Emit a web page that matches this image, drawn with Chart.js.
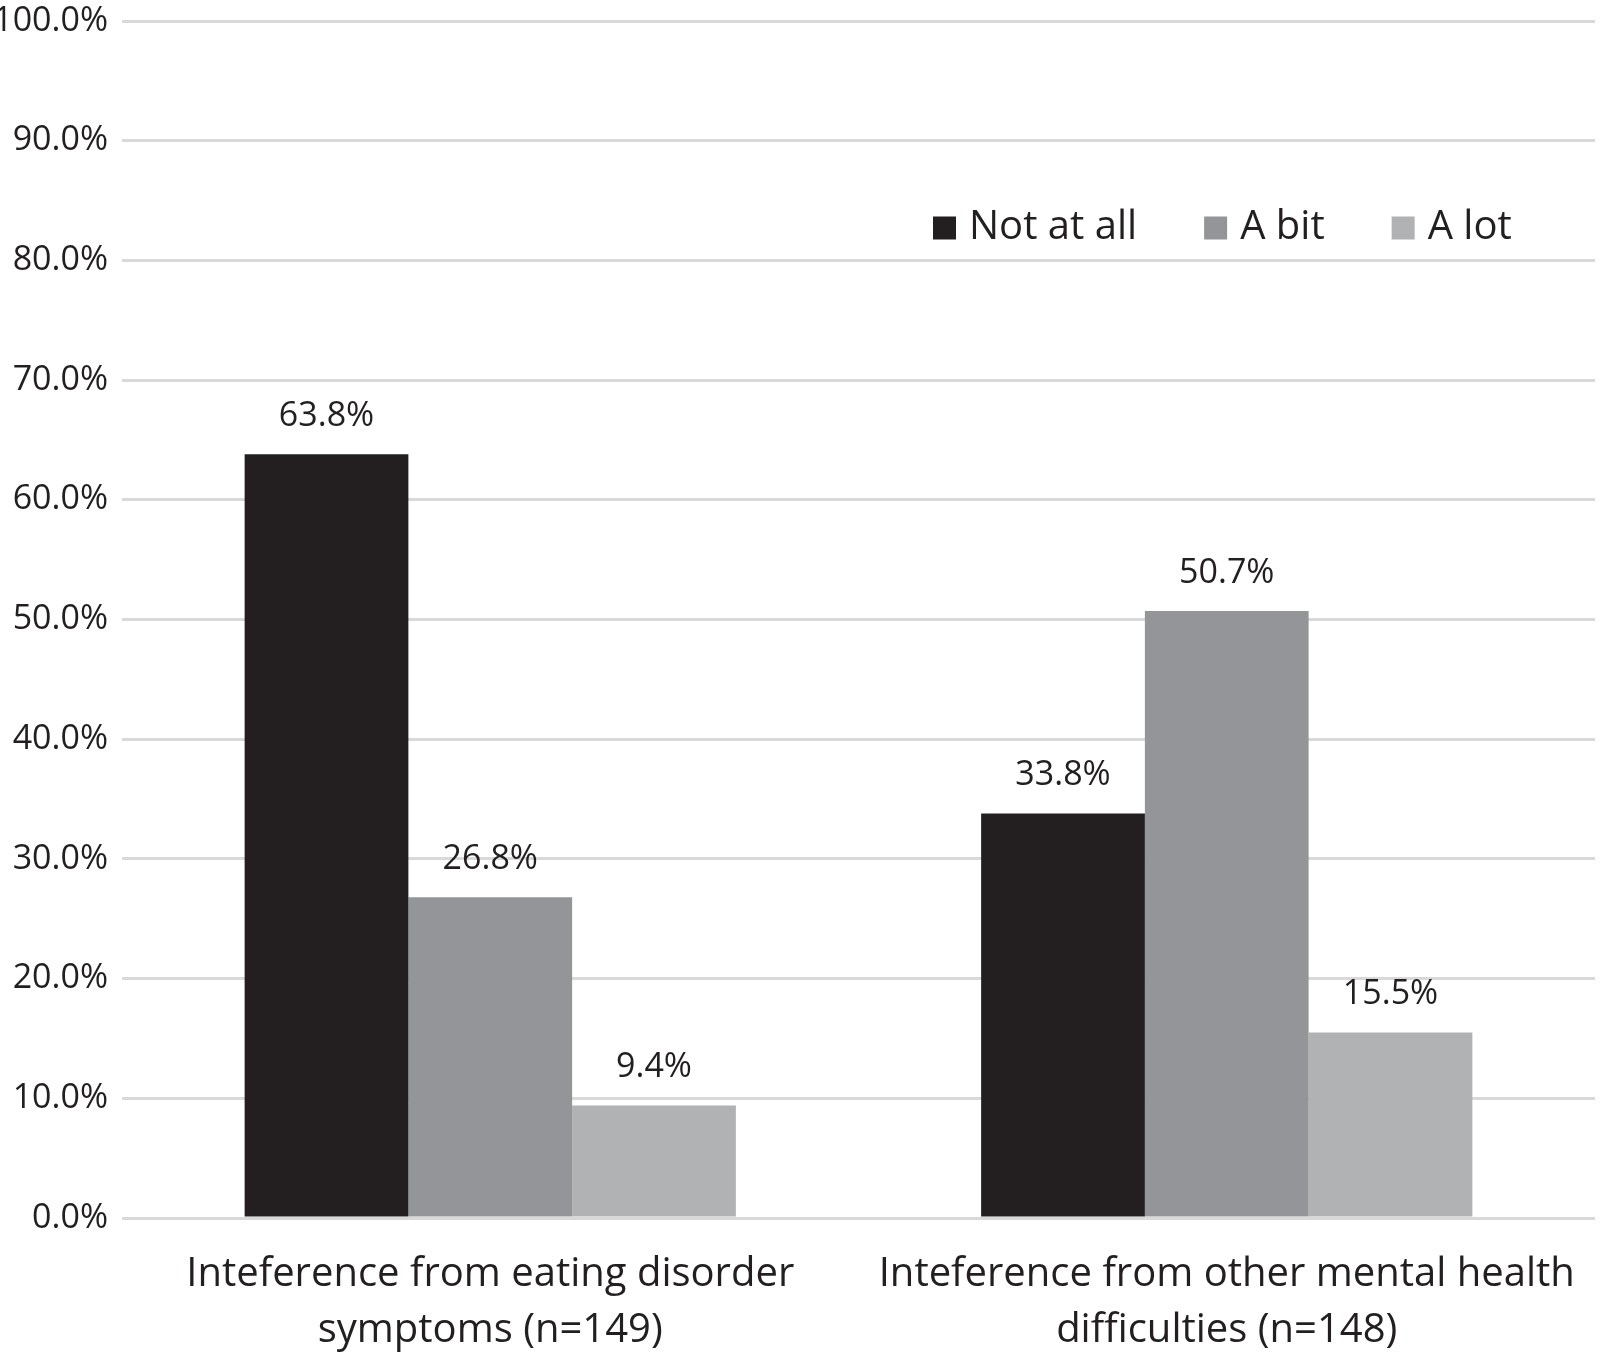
<!DOCTYPE html>
<html>
<head>
<meta charset="utf-8">
<script src="https://cdn.jsdelivr.net/npm/chart.js@4.4.1/dist/chart.umd.min.js"></script>
<style>
  html, body { margin: 0; padding: 0; background: #fff; }
  #wrap { width: 1600px; height: 1356px; }
</style>
</head>
<body>
<div id="wrap"><canvas id="myChart" width="1600" height="1356"></canvas></div>
<script>
// categories (two-line x labels)
const categories = [
  ['Inteference from eating disorder', 'symptoms (n=149)'],
  ['Inteference from other mental health', 'difficulties (n=148)']
];
const seriesNames = ['Not at all', 'A bit', 'A lot'];
const notAtAll = [63.8, 33.8];
const aBit = [26.8, 50.7];
const aLot = [9.4, 15.5];
const colors = ['#231f20', '#939598', '#b1b2b4'];

const FONT = "'Open Sans', 'Noto Sans', sans-serif";
const TEXT = '#231f20';

// value labels above each bar, using the bar element positions
const valueLabels = {
  id: 'valueLabels',
  afterDatasetsDraw(chart) {
    const ctx = chart.ctx;
    ctx.save();
    ctx.font = '34px ' + FONT;
    ctx.fillStyle = TEXT;
    ctx.textAlign = 'center';
    ctx.textBaseline = 'middle';
    chart.data.datasets.forEach((ds, i) => {
      chart.getDatasetMeta(i).data.forEach((bar, j) => {
        ctx.fillText(ds.data[j].toFixed(1) + '%', bar.x, bar.y - 38);
      });
    });
    ctx.restore();
  }
};

// legend drawn inside the plot, upper right
const insideLegend = {
  id: 'insideLegend',
  afterDraw(chart) {
    const ctx = chart.ctx;
    ctx.save();
    ctx.font = '40px ' + FONT;
    ctx.textBaseline = 'middle';
    let x = 933;
    const y = 228;
    const box = 23;
    chart.data.datasets.forEach(ds => {
      ctx.fillStyle = ds.backgroundColor;
      ctx.fillRect(x, y - box / 2, box, box);
      ctx.fillStyle = TEXT;
      ctx.fillText(ds.label, x + box + 13, y);
      x += box + 13 + ctx.measureText(ds.label).width + 67;
    });
    ctx.restore();
  }
};

const data = {
  labels: categories,
  datasets: [
    { label: seriesNames[0], data: notAtAll, backgroundColor: colors[0] },
    { label: seriesNames[1], data: aBit, backgroundColor: colors[1] },
    { label: seriesNames[2], data: aLot, backgroundColor: colors[2] }
  ]
};

const config = {
  type: 'bar',
  data: data,
  options: {
    responsive: false,
    animation: false,
    layout: { padding: { top: 0, right: 5, left: 0, bottom: 0 } },
    datasets: {
      bar: { barPercentage: 1.0, categoryPercentage: 0.667 }
    },
    plugins: {
      legend: { display: false },
      tooltip: { enabled: false }
    },
    scales: {
      x: {
        grid: { display: false, drawTicks: false },
        border: { display: false },
        afterFit: s => { s.height = 138; s.paddingLeft = 0; s.paddingRight = 0; },
        ticks: {
          color: TEXT,
          padding: 29,
          maxRotation: 0,
          font: { family: FONT, size: 40, lineHeight: 1.4 }
        }
      },
      y: {
        min: 0,
        max: 100,
        grid: { color: '#d9d9d9', lineWidth: 3, drawTicks: false },
        border: { display: false },
        afterFit: s => { s.width = 122; s.paddingTop = 21; s.paddingBottom = 0; },
        ticks: {
          stepSize: 10,
          color: TEXT,
          padding: 14,
          font: { family: FONT, size: 34 },
          callback: v => v.toFixed(1) + '%'
        }
      }
    }
  },
  plugins: [valueLabels, insideLegend]
};

const myChart = new Chart(document.getElementById('myChart'), config);
</script>
</body>
</html>
